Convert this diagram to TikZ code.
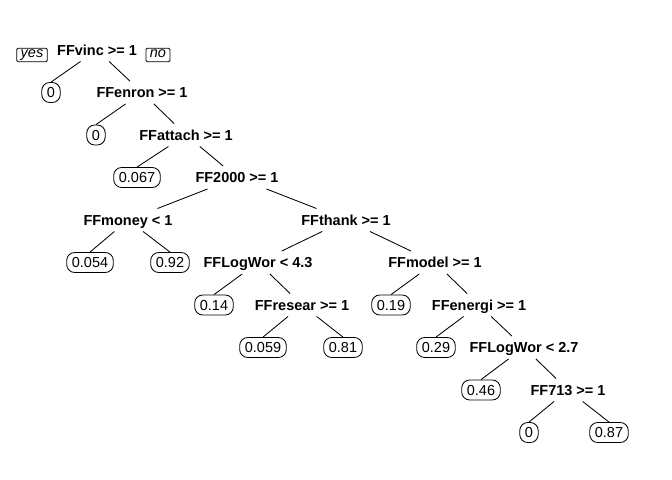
\documentclass[tikz,border=0pt]{standalone}
\usepackage{fontspec}
\setmainfont{Liberation Sans}
\usepackage{tikz}
\newcommand{\treefont}{\fontsize{10.3}{12.4}\selectfont}

\begin{document}
\begin{tikzpicture}[
  x=0.025cm, y=-0.025cm,
  split/.style={font=\treefont\bfseries, inner xsep=0.05cm, inner ysep=0.15cm,
                text height=0.26cm, text depth=0cm},
  leaf/.style={draw, rounded corners=0.2cm, font=\treefont, inner xsep=0.13cm,
               inner ysep=0.12cm, text height=0.26cm, text depth=0cm, line width=0.6pt},
  yesno/.style={draw, rounded corners=1pt, font=\treefont\itshape, inner xsep=0.1cm,
                inner ysep=0.04cm, text height=0.2cm, text depth=0.06cm, line width=0.6pt},
  branch/.style={line width=0.6pt}
]
  \useasboundingbox (0,0) rectangle (672,480);
  % root
  \node[yesno] (yes)   at (32,55)    {yes};
  \node[split] (vinc)  at (97,50)    {FFvinc >= 1};
  \node[yesno] (no)    at (158,55)   {no};
  % left spine
  \node[leaf]  (zeroa)  at (51,92.5)  {0};
  \node[split] (enron)  at (142,92.5) {FFenron >= 1};
  \node[leaf]  (zerob)  at (96,135)   {0};
  \node[split] (attach) at (186,135)  {FFattach >= 1};
  \node[leaf]  (p067)   at (137,177.5) {0.067};
  \node[split] (ff2000) at (237,177.5) {FF2000 >= 1};
  % money branch
  \node[split] (money)  at (128,220)  {FFmoney < 1};
  \node[leaf]  (p054)   at (90,262.5) {0.054};
  \node[leaf]  (p092)   at (170,262.5) {0.92};
  % thank branch
  \node[split] (thank)  at (346,220)  {FFthank >= 1};
  \node[split] (logwa)  at (258,262.5) {FFLogWor < 4.3};
  \node[leaf]  (p014)   at (214,305)  {0.14};
  \node[split] (resear) at (302,305)  {FFresear >= 1};
  \node[leaf]  (p059)   at (263,347.5) {0.059};
  \node[leaf]  (p081)   at (343,347.5) {0.81};
  % model branch
  \node[split] (model)  at (435,262.5) {FFmodel >= 1};
  \node[leaf]  (p019)   at (391,305)  {0.19};
  \node[split] (energi) at (479,305)  {FFenergi >= 1};
  \node[leaf]  (p029)   at (436,347.5) {0.29};
  \node[split] (logwb)  at (524,347.5) {FFLogWor < 2.7};
  \node[leaf]  (p046)   at (481,390)  {0.46};
  \node[split] (ff713)  at (568,390)  {FF713 >= 1};
  \node[leaf]  (zeroc)  at (529,432.5) {0};
  \node[leaf]  (p087)   at (609,432.5) {0.87};

  % branches
  \draw[branch] (vinc)   -- (zeroa.north);
  \draw[branch] (vinc)   -- (enron);
  \draw[branch] (enron)  -- (zerob.north);
  \draw[branch] (enron)  -- (attach);
  \draw[branch] (attach) -- (p067.north);
  \draw[branch] (attach) -- (ff2000);
  \draw[branch] (ff2000) -- (money);
  \draw[branch] (ff2000) -- (thank);
  \draw[branch] (money)  -- (p054.north);
  \draw[branch] (money)  -- (p092.north);
  \draw[branch] (thank)  -- (logwa);
  \draw[branch] (thank)  -- (model);
  \draw[branch] (logwa)  -- (p014.north);
  \draw[branch] (logwa)  -- (resear);
  \draw[branch] (resear) -- (p059.north);
  \draw[branch] (resear) -- (p081.north);
  \draw[branch] (model)  -- (p019.north);
  \draw[branch] (model)  -- (energi);
  \draw[branch] (energi) -- (p029.north);
  \draw[branch] (energi) -- (logwb);
  \draw[branch] (logwb)  -- (p046.north);
  \draw[branch] (logwb)  -- (ff713);
  \draw[branch] (ff713)  -- (zeroc.north);
  \draw[branch] (ff713)  -- (p087.north);
\end{tikzpicture}
\end{document}
